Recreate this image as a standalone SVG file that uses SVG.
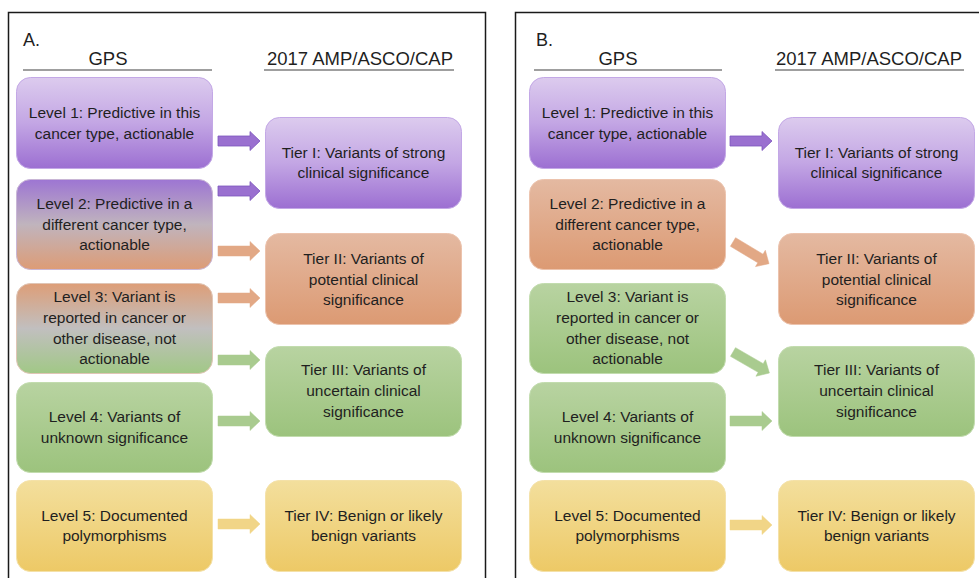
<svg xmlns="http://www.w3.org/2000/svg" xmlns:xlink="http://www.w3.org/1999/xlink" width="979" height="578" viewBox="0 0 979 578">
<style>
text{font-family:"Liberation Sans",Arial,sans-serif;fill:#1f1f1f;text-anchor:middle}
.body{font-size:15.5px}
.hdr{font-size:18.5px}
.lbl{font-size:18px;text-anchor:start}
.frame{fill:none;stroke:#1a1a1a;stroke-width:1.5}
.rule{stroke:#7f7f7f;stroke-width:1.5}
.box{stroke-width:1}
.purple{fill:url(#gPurple);stroke:#c3a8e6}
.orange{fill:url(#gOrange);stroke:#ecc3ad}
.green{fill:url(#gGreen);stroke:#c2dcae}
.yellow{fill:url(#gYellow);stroke:#f4e1a8}
.po{fill:url(#gPO);stroke:#c9b6d6}
.og{fill:url(#gOG);stroke:#e0c5b5}
.aP{fill:#9a70d0;stroke:#7c55bd;stroke-width:0.8}
.aO{fill:#e2a885;stroke:#e2a885;stroke-width:0.5}
.aG{fill:#a9cb8f;stroke:#a9cb8f;stroke-width:0.5}
.aY{fill:#f1d587;stroke:#f1d587;stroke-width:0.5}
</style>
<defs>
<linearGradient id="gPurple" x1="0" y1="0" x2="0" y2="1"><stop offset="0" stop-color="#dccbee"/><stop offset="0.5" stop-color="#c3a6e4"/><stop offset="1" stop-color="#9c6fd2"/></linearGradient>
<linearGradient id="gOrange" x1="0" y1="0" x2="0" y2="1"><stop offset="0" stop-color="#e4b9a1"/><stop offset="1" stop-color="#dc9a73"/></linearGradient>
<linearGradient id="gGreen" x1="0" y1="0" x2="0" y2="1"><stop offset="0" stop-color="#b8d3a1"/><stop offset="1" stop-color="#9cc37d"/></linearGradient>
<linearGradient id="gYellow" x1="0" y1="0" x2="0" y2="1"><stop offset="0" stop-color="#f3df9d"/><stop offset="1" stop-color="#edc966"/></linearGradient>
<linearGradient id="gPO" x1="0" y1="0" x2="0" y2="1"><stop offset="0" stop-color="#9d75d3"/><stop offset="0.5" stop-color="#c0b4bd"/><stop offset="1" stop-color="#dd9c76"/></linearGradient>
<linearGradient id="gOG" x1="0" y1="0" x2="0" y2="1"><stop offset="0" stop-color="#dd9e78"/><stop offset="0.5" stop-color="#c1bfbf"/><stop offset="1" stop-color="#a1c886"/></linearGradient>
<path id="arrow" d="M0,-5 H32 V-9.5 L42,0 L32,9.5 V5 H0 Z"/>
</defs>

<g id="panel-A">
<rect class="frame" x="8.5" y="12.5" width="477" height="600"/>
<text class="lbl" x="23" y="46">A.</text>
<text class="hdr" x="108" y="65">GPS</text>
<line class="rule" x1="23" y1="70" x2="212" y2="70"/>
<text class="hdr" x="360" y="65">2017 AMP/ASCO/CAP</text>
<line class="rule" x1="264" y1="70" x2="454" y2="70"/>
</g>

<g id="panel-B">
<rect class="frame" x="515.5" y="12.5" width="500" height="600"/>
<text class="lbl" x="536" y="46">B.</text>
<text class="hdr" x="618" y="65">GPS</text>
<line class="rule" x1="534" y1="70" x2="722" y2="70"/>
<text class="hdr" x="869" y="65">2017 AMP/ASCO/CAP</text>
<line class="rule" x1="775" y1="70" x2="964" y2="70"/>
</g>

<!-- Panel A nodes -->
<g id="A-level1"><rect class="box purple" x="16.5" y="77.5" width="196" height="91" rx="14"/>
<text class="body" x="114.5" y="118">Level 1: Predictive in this</text><text class="body" x="114.5" y="139">cancer type, actionable</text></g>
<g id="A-level2"><rect class="box po" x="16.5" y="179.5" width="196" height="90" rx="14"/>
<text class="body" x="114.5" y="209">Level 2: Predictive in a</text><text class="body" x="114.5" y="230">different cancer type,</text><text class="body" x="114.5" y="250">actionable</text></g>
<g id="A-level3"><rect class="box og" x="16.5" y="283.5" width="196" height="90" rx="14"/>
<text class="body" x="114.5" y="302">Level 3: Variant is</text><text class="body" x="114.5" y="323">reported in cancer or</text><text class="body" x="114.5" y="344">other disease, not</text><text class="body" x="114.5" y="364">actionable</text></g>
<g id="A-level4"><rect class="box green" x="16.5" y="382.5" width="196" height="90" rx="14"/>
<text class="body" x="114.5" y="422">Level 4: Variants of</text><text class="body" x="114.5" y="443">unknown significance</text></g>
<g id="A-level5"><rect class="box yellow" x="16.5" y="480.5" width="196" height="91" rx="14"/>
<text class="body" x="114.5" y="521">Level 5: Documented</text><text class="body" x="114.5" y="541">polymorphisms</text></g>
<g id="A-tier1"><rect class="box purple" x="265.5" y="117.5" width="196" height="91" rx="14"/>
<text class="body" x="363.5" y="158">Tier I: Variants of strong</text><text class="body" x="363.5" y="178">clinical significance</text></g>
<g id="A-tier2"><rect class="box orange" x="265.5" y="233.5" width="196" height="91" rx="14"/>
<text class="body" x="363.5" y="264">Tier II: Variants of</text><text class="body" x="363.5" y="285">potential clinical</text><text class="body" x="363.5" y="305">significance</text></g>
<g id="A-tier3"><rect class="box green" x="265.5" y="346.5" width="196" height="90" rx="14"/>
<text class="body" x="363.5" y="375">Tier III: Variants of</text><text class="body" x="363.5" y="396">uncertain clinical</text><text class="body" x="363.5" y="417">significance</text></g>
<g id="A-tier4"><rect class="box yellow" x="265.5" y="480.5" width="196" height="91" rx="14"/>
<text class="body" x="363.5" y="521">Tier IV: Benign or likely</text><text class="body" x="363.5" y="541">benign variants</text></g>

<!-- Panel B nodes -->
<g id="B-level1"><rect class="box purple" x="529.5" y="77.5" width="196" height="91" rx="14"/>
<text class="body" x="627.5" y="118">Level 1: Predictive in this</text><text class="body" x="627.5" y="139">cancer type, actionable</text></g>
<g id="B-level2"><rect class="box orange" x="529.5" y="179.5" width="196" height="90" rx="14"/>
<text class="body" x="627.5" y="209">Level 2: Predictive in a</text><text class="body" x="627.5" y="230">different cancer type,</text><text class="body" x="627.5" y="250">actionable</text></g>
<g id="B-level3"><rect class="box green" x="529.5" y="283.5" width="196" height="90" rx="14"/>
<text class="body" x="627.5" y="302">Level 3: Variant is</text><text class="body" x="627.5" y="323">reported in cancer or</text><text class="body" x="627.5" y="344">other disease, not</text><text class="body" x="627.5" y="364">actionable</text></g>
<g id="B-level4"><rect class="box green" x="529.5" y="382.5" width="196" height="90" rx="14"/>
<text class="body" x="627.5" y="422">Level 4: Variants of</text><text class="body" x="627.5" y="443">unknown significance</text></g>
<g id="B-level5"><rect class="box yellow" x="529.5" y="480.5" width="196" height="91" rx="14"/>
<text class="body" x="627.5" y="521">Level 5: Documented</text><text class="body" x="627.5" y="541">polymorphisms</text></g>
<g id="B-tier1"><rect class="box purple" x="778.5" y="117.5" width="196" height="91" rx="14"/>
<text class="body" x="876.5" y="158">Tier I: Variants of strong</text><text class="body" x="876.5" y="178">clinical significance</text></g>
<g id="B-tier2"><rect class="box orange" x="778.5" y="233.5" width="196" height="91" rx="14"/>
<text class="body" x="876.5" y="264">Tier II: Variants of</text><text class="body" x="876.5" y="285">potential clinical</text><text class="body" x="876.5" y="305">significance</text></g>
<g id="B-tier3"><rect class="box green" x="778.5" y="346.5" width="196" height="90" rx="14"/>
<text class="body" x="876.5" y="375">Tier III: Variants of</text><text class="body" x="876.5" y="396">uncertain clinical</text><text class="body" x="876.5" y="417">significance</text></g>
<g id="B-tier4"><rect class="box yellow" x="778.5" y="480.5" width="196" height="91" rx="14"/>
<text class="body" x="876.5" y="521">Tier IV: Benign or likely</text><text class="body" x="876.5" y="541">benign variants</text></g>

<g id="connectors">
<use xlink:href="#arrow" class="aP" transform="translate(218,141)"/>
<use xlink:href="#arrow" class="aP" transform="translate(218,191)"/>
<use xlink:href="#arrow" class="aO" transform="translate(218,251)"/>
<use xlink:href="#arrow" class="aO" transform="translate(218,298)"/>
<use xlink:href="#arrow" class="aG" transform="translate(218,360)"/>
<use xlink:href="#arrow" class="aG" transform="translate(218,421)"/>
<use xlink:href="#arrow" class="aY" transform="translate(218,524)"/>
<use xlink:href="#arrow" class="aP" transform="translate(730,141)"/>
<use xlink:href="#arrow" class="aO" transform="translate(733,242) rotate(31)"/>
<use xlink:href="#arrow" class="aG" transform="translate(733,352) rotate(30)"/>
<use xlink:href="#arrow" class="aG" transform="translate(730,421)"/>
<use xlink:href="#arrow" class="aY" transform="translate(730,525)"/>
</g>
</svg>
